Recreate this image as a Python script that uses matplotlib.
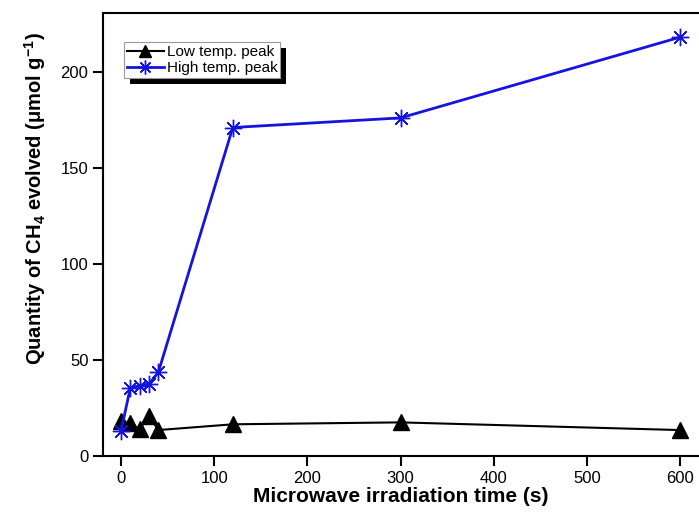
import matplotlib
matplotlib.use('Agg')
import matplotlib.pyplot as plt
from matplotlib.patches import Rectangle

plt.rcParams['font.family'] = ['Liberation Sans', 'DejaVu Sans']
plt.rcParams['mathtext.fontset'] = 'custom'
plt.rcParams['mathtext.rm'] = 'Liberation Sans'
plt.rcParams['mathtext.bf'] = 'Liberation Sans:bold'

# data
time_low = [0, 10, 20, 30, 40, 120, 300, 600]
low_peak = [18, 17, 14, 21, 13.5, 16.5, 17.5, 13.5]
time_high = [0, 10, 20, 30, 40, 120, 300, 600]
high_peak = [13, 35.5, 36.5, 37.5, 43.5, 171, 176, 218]

fig = plt.figure(figsize=(6.99, 5.29), dpi=100)
ax = fig.add_axes([0.1474, 0.138, 0.8526, 0.8374])

ax.plot(time_low, low_peak, color='black', lw=1.5, marker='^', ms=11,
        mfc='black', mec='black', label='Low temp. peak')
ax.plot(time_high, high_peak, color='#1414e0', lw=2, marker=(8, 2, 0), ms=12.5,
        mec='#1414e0', mew=1, label='High temp. peak')

ax.set_xlim(-19.3, 620.4)
ax.set_ylim(0, 230.6)
ax.set_xticks([0, 100, 200, 300, 400, 500, 600])
ax.set_yticks([0, 50, 100, 150, 200])
ax.spines['right'].set_visible(False)
for s in ['left', 'bottom', 'top']:
    ax.spines[s].set_linewidth(1.5)
ax.tick_params(direction='out', length=7, width=1.5, labelsize=12)

ax.set_xlabel('Microwave irradiation time (s)', fontsize=15, fontweight='bold', labelpad=1)
ax.set_ylabel('Quantity of CH$_\\mathbf{4}$ evolved (\u03bcmol g$^\\mathbf{-1}$)',
              fontsize=14.5, fontweight='bold')
ax.yaxis.set_label_coords(-0.092, 0.58)

leg = ax.legend(loc='upper left', bbox_to_anchor=(0.035, 0.9345), fontsize=11,
                fancybox=False, handlelength=2.4, handletextpad=0.2,
                borderpad=0.2, labelspacing=0.15, borderaxespad=0, framealpha=1,
                markerscale=0.8)
leg.get_frame().set_edgecolor('#999999')
leg.get_frame().set_linewidth(0.8)

# black drop shadow behind the legend box
fig.canvas.draw()
bb = leg.get_window_extent().transformed(ax.transAxes.inverted())
dx = 6 / (0.8526 * 699)
dy = 6 / (0.8374 * 529)
shadow = Rectangle((bb.x0 + dx, bb.y0 - dy), bb.width, bb.height, transform=ax.transAxes,
                   facecolor='black', edgecolor='none', zorder=4.9, clip_on=False)
ax.add_patch(shadow)

fig.savefig('out.png', dpi=100)
